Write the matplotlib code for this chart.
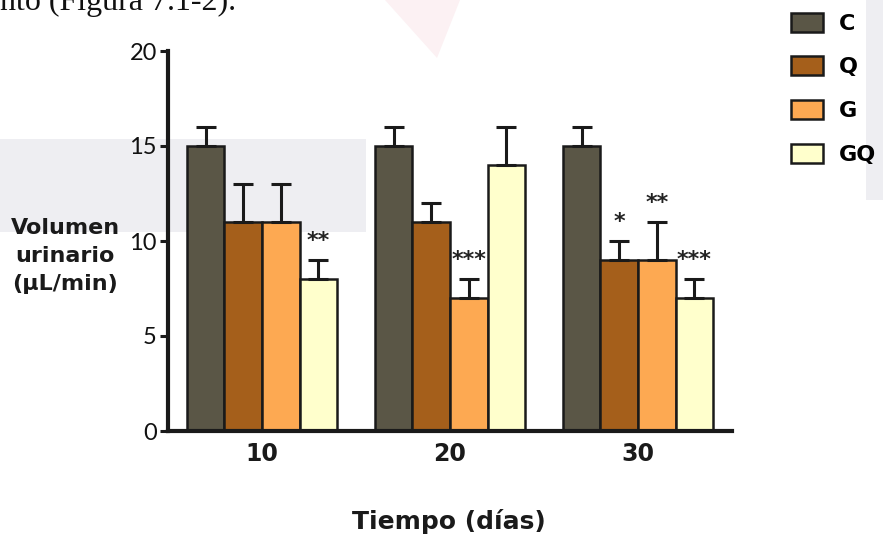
import matplotlib.pyplot as plt
from matplotlib.patches import Polygon, Rectangle
import numpy as np

# urinary volume per group at each time point
days = ["10", "20", "30"]
groups = ["C", "Q", "G", "GQ"]
means = {
    "C": [15, 15, 15],
    "Q": [11, 11, 9],
    "G": [11, 7, 9],
    "GQ": [8, 14, 7],
}
sem = {
    "C": [1, 1, 1],
    "Q": [2, 1, 1],
    "G": [2, 1, 2],
    "GQ": [1, 2, 1],
}
# significance marks: (group, day index, label)
stars = [("GQ", 0, "**"), ("G", 1, "***"), ("Q", 2, "*"), ("G", 2, "**"), ("GQ", 2, "***")]

colors = {"C": "#5a5646", "Q": "#a55f1b", "G": "#fda952", "GQ": "#ffffcc"}
edge = "#1a1a1a"

fig = plt.figure(figsize=(8.83, 5.4), dpi=100)
W, H = 883, 540


def px(x, y):
    return (x / W, 1 - y / H)


# faint page background shapes
fig.patches.append(Rectangle(px(0, 232), 366 / W, 93 / H, transform=fig.transFigure,
                             facecolor="#eeeef2", edgecolor="none", zorder=-5))
fig.patches.append(Polygon([px(385, 0), px(460, 0), px(437, 58)], closed=True,
                           transform=fig.transFigure, facecolor="#fcf1f3",
                           edgecolor="none", zorder=-5))
fig.patches.append(Rectangle(px(866, 200), 17 / W, 200 / H, transform=fig.transFigure,
                             facecolor="#eeeef2", edgecolor="none", zorder=-5))

fig.text(0 / W, 1 - 10 / H, "nto (Figura 7.1-2).", family="Liberation Serif",
         fontsize=23, va="baseline", ha="left", color="#111111")

ax = fig.add_axes([168 / W, 1 - 431 / H, (732 - 168) / W, (431 - 51) / H])
ax.set_facecolor("none")
ax.set_zorder(2)

x = np.arange(len(days))
width = 0.2
handles = []
for i, g in enumerate(groups):
    pos = x + (i - 1.5) * width
    b = ax.bar(pos, means[g], width, color=colors[g], edgecolor=edge, linewidth=1.8,
               label=g, zorder=2)
    handles.append(b)
    ax.errorbar(pos, means[g], yerr=[np.zeros(len(days)), sem[g]], fmt="none",
                ecolor=edge, elinewidth=2.2, capsize=7.5, capthick=2.2, zorder=3)

for g, d, lab in stars:
    i = groups.index(g)
    xpos = x[d] + (i - 1.5) * width
    top = means[g][d] + sem[g][d]
    ax.text(xpos, top + 0.7, lab, ha="center", va="baseline", fontsize=16,
            fontweight="bold", color="#222222")

ax.set_xlim(-0.5, 2.5)
ax.set_ylim(0, 20)
ax.set_yticks([0, 5, 10, 15, 20])
ax.set_xticks(x)
ax.set_xticklabels(days, fontsize=17, fontweight="bold")
for lbl in ax.get_yticklabels():
    lbl.set_family("Lato")
    lbl.set_fontsize(17)
ax.tick_params(axis="y", length=6, width=2.2, pad=2, colors=edge, labelcolor="#111111")
ax.tick_params(axis="x", length=0, pad=8, labelcolor="#1a1a1a")
for s in ["top", "right"]:
    ax.spines[s].set_visible(False)
for s in ["left", "bottom"]:
    ax.spines[s].set_linewidth(3)
    ax.spines[s].set_color(edge)

fig.text(65 / W, 1 - 256 / H, "Volumen\nurinario\n(µL/min)", ha="center", va="center",
         fontsize=16, fontweight="bold", linespacing=1.5, color="#1a1a1a")
fig.text(449 / W, 1 - 522 / H, "Tiempo (días)", ha="center", va="center",
         fontsize=18, fontweight="bold", color="#1a1a1a")

ax.legend(handles, groups, loc="upper left", bbox_to_anchor=(780 / W, 1 - 1.5 / H),
          bbox_transform=fig.transFigure, frameon=False,
          prop={"weight": "bold", "size": 16}, handlelength=1.45, handleheight=0.95,
          handletextpad=0.7, labelspacing=1.01, borderpad=0)

fig.savefig("out.png", dpi=100)
